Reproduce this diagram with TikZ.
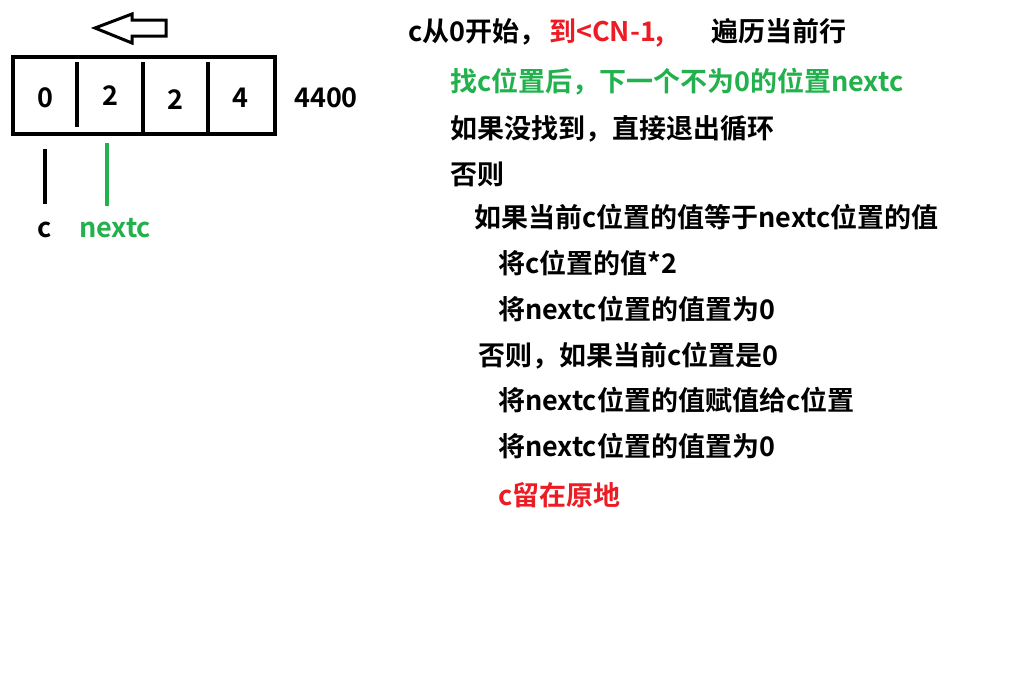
\documentclass[tikz,border=0pt]{standalone}
\usepackage{fontspec}
\setmainfont{Noto Sans CJK SC}[BoldFont={Noto Sans CJK SC Bold}]
\definecolor{pred}{RGB}{237,28,36}
\definecolor{pgreen}{RGB}{34,177,76}
\begin{document}
\begin{tikzpicture}[x=1pt,y=-1pt,
  txt/.style={anchor=base west,inner sep=0pt,font=\fontsize{27}{30}\selectfont\bfseries},
  digit/.style={anchor=base,inner sep=0pt,font=\fontsize{27}{30}\selectfont\bfseries},
  thick4/.style={line width=4pt},
  mark4/.style={line width=4pt,line cap=butt}]
\useasboundingbox[fill=white] (0,0) rectangle (1016,699);
% array box
\draw[thick4] (13,57) rectangle (275,134);
\draw[thick4] (77,62) -- (77,127);
\draw[thick4] (143,62) -- (143,133);
\draw[thick4] (208,62) -- (208,133);
\node[digit] (d0) at (45,107) {0};
\node[digit] (d1) at (110,105) {2};
\node[digit] (d2) at (175,109) {2};
\node[digit] (d3) at (240,107) {4};
\node[digit,anchor=base west] (sum) at (294,107) {4400};
% arrow
\draw[line width=3pt,line join=miter] (95,28) -- (132,14) -- (132,20) -- (166,20) -- (166,36) -- (132,36) -- (132,43) -- cycle;
% pointers
\node[digit] (lc) at (45,237) {c};
\node[digit,anchor=base west,text=pgreen] (ln) at (79,237) {nextc};
\coordinate (ctop) at (45,149);
\coordinate (cbot) at (45,204);
\coordinate (ntop) at (107,143);
\coordinate (nbot) at (107,206);
\draw[mark4] (ctop) -- (cbot);
\draw[mark4,pgreen] (ntop) -- (nbot);
% text
\node[txt] (l1a) at (408,41) {c从0开始，};
\node[txt,text=pred] (l1b) at (549,41) {到<CN-1,};
\node[txt] (l1c) at (711,41) {遍历当前行};
\node[txt,text=pgreen] (l2) at (450,91) {找c位置后，下一个不为0的位置nextc};
\node[txt] (l3) at (450,138) {如果没找到，直接退出循环};
\node[txt] (l4) at (450,184) {否则};
\node[txt] (l5) at (474,227) {如果当前c位置的值等于nextc位置的值};
\node[txt] (l6) at (498,273) {将c位置的值*2};
\node[txt] (l7) at (498,319) {将nextc位置的值置为0};
\node[txt] (l8) at (478,365) {否则，如果当前c位置是0};
\node[txt] (l9) at (498,410) {将nextc位置的值赋值给c位置};
\node[txt] (l10) at (498,456) {将nextc位置的值置为0};
\node[txt,text=pred] (l11) at (498,505) {c留在原地};
\end{tikzpicture}
\end{document}
